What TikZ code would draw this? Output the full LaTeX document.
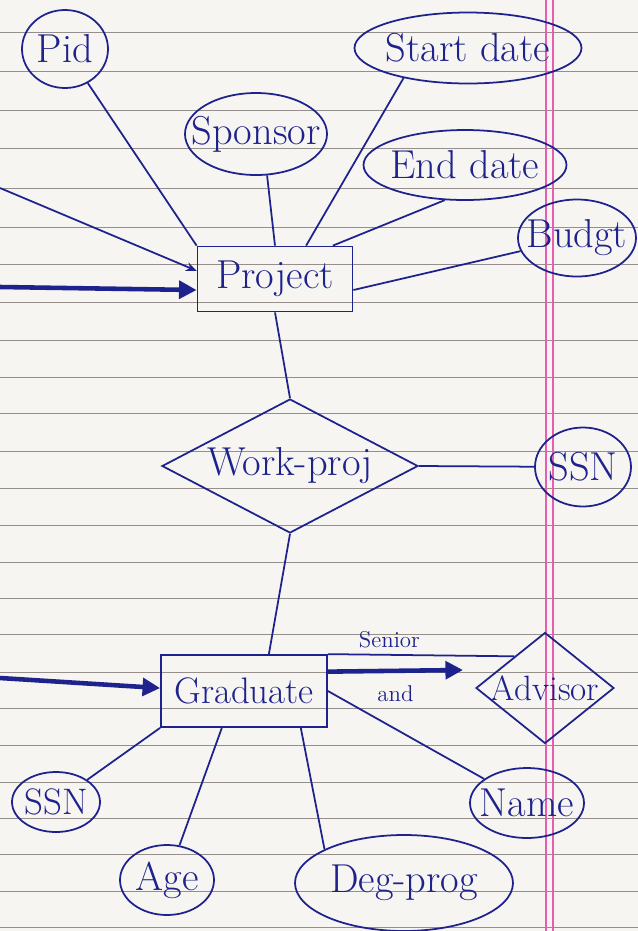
\documentclass[tikz,border=0pt]{standalone}
\usetikzlibrary{shapes.geometric,arrows.meta}
\definecolor{ink}{RGB}{30,34,140}
\definecolor{paper}{RGB}{246,245,241}
\definecolor{ruling}{RGB}{150,142,139}
\definecolor{marginpink}{RGB}{232,92,178}
% text that does not widen its shape
\newcommand{\hand}[1]{\makebox[0pt]{#1}}
\begin{document}
\begin{tikzpicture}[x=0.02cm, y=-0.02cm,
    pen/.style={draw=ink, line width=1pt},
    attr/.style={ellipse, pen, text=ink, inner sep=0pt, font=\fontsize{23}{27}\selectfont},
    entity/.style={rectangle, pen, text=ink, inner sep=0pt, font=\fontsize{23}{27}\selectfont},
    relation/.style={diamond, pen, text=ink, inner sep=0pt, font=\fontsize{23}{27}\selectfont},
    thin arrow/.style={pen, -{Stealth[length=6pt,width=5pt]}},
    thick arrow/.style={draw=ink, line width=2.6pt, -{Triangle[length=10pt,width=10pt]}},
    note/.style={text=ink, font=\fontsize{13}{15}\selectfont}]
    \def\px{0.02cm}
    % the sheet
    \fill[paper] (0,0) rectangle (638,931);
    \useasboundingbox (0,0) rectangle (638,931);
    \foreach \ry in {32,71,110,148,188,227,264,302,340,377,413,451,488,525,562,598,634,672,708,745,782,818,854,891,927}
      \draw[ruling, line width=0.5pt] (0,\ry) -- (638,\ry);
    \draw[marginpink, line width=0.6pt] (546,0) -- (546,931);
    \draw[marginpink, line width=0.6pt] (553,0) -- (553,931);
    % project and its attributes
    \node[entity, minimum width=155*\px, minimum height=65*\px] (project) at (275,279) {Project};
    \node[attr, minimum width=86*\px, minimum height=78*\px] (pid) at (65,49) {\hand{Pid}};
    \node[attr, minimum width=142*\px, minimum height=82*\px] (sponsor) at (256,134) {\hand{Sponsor}};
    \node[attr, minimum width=227*\px, minimum height=71*\px] (startdate) at (468,48) {\hand{Start date}};
    \node[attr, minimum width=203*\px, minimum height=70*\px] (enddate) at (465,165) {\hand{End date}};
    \node[attr, minimum width=118*\px, minimum height=77*\px] (budgt) at (577,238) {\hand{Budgt}};
    \draw[pen] (pid) -- (project.north west);
    \draw[pen] (sponsor.-75) -- (project.north);
    \draw[pen] (startdate.205) -- (project.47);
    \draw[pen] (enddate.240) -- (project.30);
    \draw[pen] (budgt) -- (project.-8);
    % incoming from the left
    \coordinate (leftA) at (0,188);
    \coordinate (leftB) at (0,287);
    \draw[thin arrow] (leftA) -- (project.174);
    \draw[thick arrow] (leftB) -- (project.188);
    % relationship
    \node[relation, minimum width=256*\px, minimum height=134*\px] (workproj) at (290,466) {\hand{Work-proj}};
    \node[attr, minimum width=96*\px, minimum height=79*\px] (ssnw) at (583,467) {\hand{SSN}};
    \draw[pen] (project.south) -- (workproj.north);
    \draw[pen] (workproj.east) -- (ssnw);
    % graduate
    \node[entity, minimum width=166*\px, minimum height=72*\px, font=\fontsize{21}{25}\selectfont] (graduate) at (244,691) {Graduate};
    \draw[pen] (workproj.south) -- (graduate.56);
    \coordinate (leftC) at (0,678);
    \draw[thick arrow] (leftC) -- (graduate.178);
    \node[relation, minimum width=138*\px, minimum height=111*\px, font=\fontsize{20}{24}\selectfont] (advisor) at (545,688) {\hand{Advisor}};
    \draw[pen] (graduate.north east) -- node[note, above, pos=0.33] {Senior} (advisor.134);
    \coordinate (advtip) at (463,670);
    \draw[thick arrow] (graduate.13) -- node[note, below=4pt] {and} (advtip);
    % attributes of graduate
    \node[attr, minimum width=88*\px, minimum height=60*\px, font=\fontsize{21}{25}\selectfont] (ssng) at (56,802) {\hand{SSN}};
    \node[attr, minimum width=94*\px, minimum height=70*\px] (age) at (167,880) {\hand{Age}};
    \node[attr, minimum width=218*\px, minimum height=96*\px] (degprog) at (404,883) {\hand{Deg-prog}};
    \node[attr, minimum width=114*\px, minimum height=70*\px] (gradname) at (527,803) {\hand{Name}};
    \draw[pen] (graduate.south west) -- (ssng);
    \draw[pen] (graduate.239) -- (age);
    \draw[pen] (graduate.-33) -- (degprog.157);
    \draw[pen] (graduate.east) -- (gradname);
\end{tikzpicture}
\end{document}
